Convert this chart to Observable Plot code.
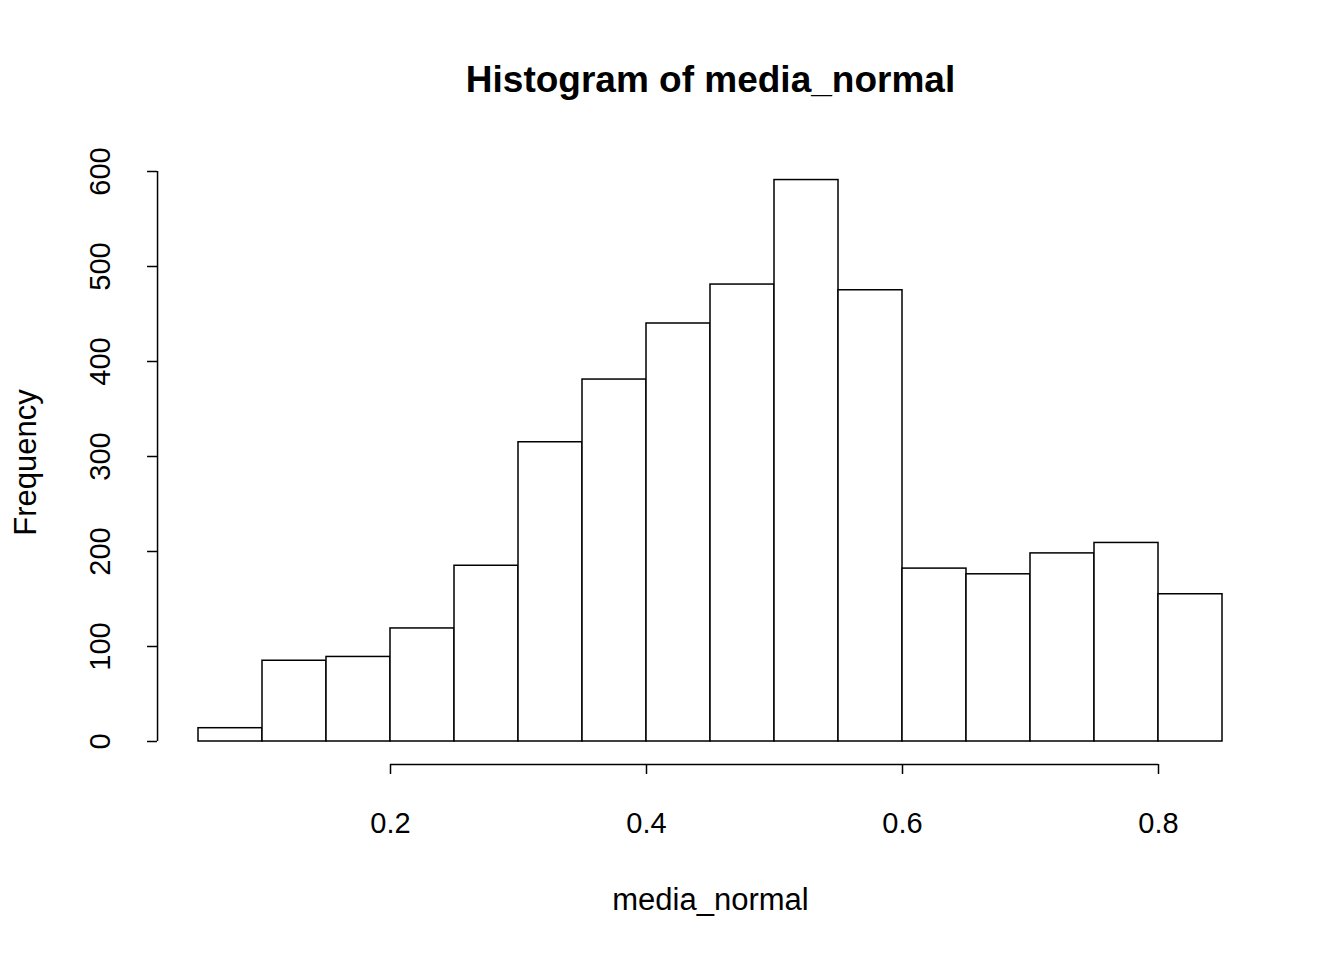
<!DOCTYPE html>
<html><head><meta charset="utf-8">
<script src="https://cdn.jsdelivr.net/npm/d3@7"></script>
<script src="https://cdn.jsdelivr.net/npm/@observablehq/plot@0.6"></script>
<style>body{margin:0;background:#fff}</style>
</head><body><div id="chart"></div>
<script>
const binStart = [0.05,0.10,0.15,0.20,0.25,0.30,0.35,0.40,0.45,0.50,0.55,0.60,0.65,0.70,0.75,0.80]
const counts = [14,85,89,119,185,315,381,440,481,591,475,182,176,198,209,155]
const binWidth = 0.05
const xTicks = [0.2,0.4,0.6,0.8]
const yTicks = [0,100,200,300,400,500,600]

const bins = binStart.map((s, i) => ({x1: s, x2: s + binWidth, n: counts[i]}))
const font = "Liberation Sans, Arial, sans-serif"

// R draws its axes detached from the plot region
const yAxisX = 0.018, yTickX = 0.0102, yLabX = -0.0266
const xAxisY = -24.2, xTickY = -34.7, xLabY = -86.3

const chart = Plot.plot({
  width: 1344, height: 960,
  marginLeft: 198, marginRight: 122, marginTop: 171, marginBottom: 219,
  x: {domain: [0.05, 0.85], axis: null},
  y: {domain: [0, 600], axis: null},
  style: {fontFamily: font, background: "white"},
  marks: [
    Plot.rectY(bins, {x1: "x1", x2: "x2", y: "n", fill: "white", stroke: "black", strokeWidth: 1.5}),
    Plot.ruleX([yAxisX], {y1: 0, y2: 600, stroke: "black", strokeWidth: 1.5}),
    Plot.ruleY(yTicks, {x1: yTickX, x2: yAxisX, stroke: "black", strokeWidth: 1.5}),
    Plot.text(yTicks, {x: yLabX, y: d => d, text: d => String(d), rotate: -90, fontSize: 29, fill: "black"}),
    Plot.ruleY([xAxisY], {x1: 0.2, x2: 0.8, stroke: "black", strokeWidth: 1.5}),
    Plot.ruleX(xTicks, {y1: xAxisY, y2: xTickY, stroke: "black", strokeWidth: 1.5}),
    Plot.text(xTicks, {x: d => d, y: xLabY, text: d => d.toFixed(1), fontSize: 29, fill: "black"}),
    Plot.text(["Histogram of media_normal"], {x: 0.45, y: 695.8, fontSize: 37, fontWeight: "bold", fill: "black"}),
    Plot.text(["media_normal"], {x: 0.45, y: -167, fontSize: 31, fill: "black"}),
    Plot.text(["Frequency"], {x: -0.085, y: 293.7, rotate: -90, fontSize: 31, fill: "black"})
  ]
})
document.getElementById("chart").append(chart)
</script></body></html>
